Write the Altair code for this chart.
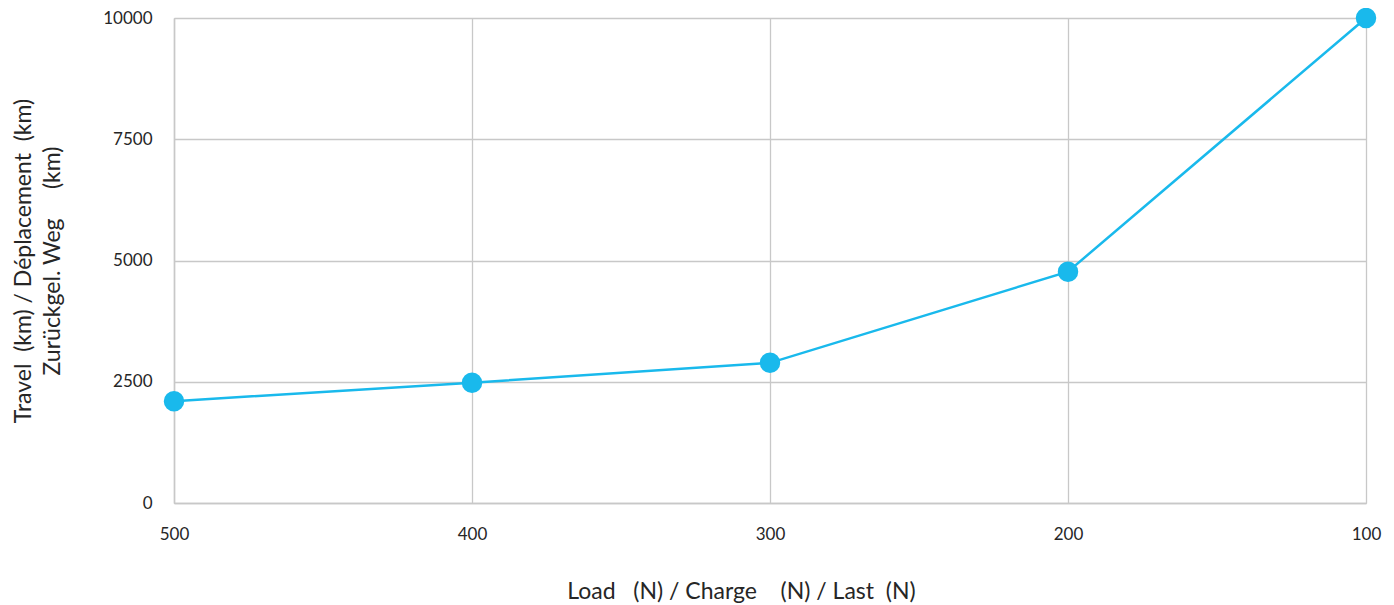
import altair as alt
import pandas as pd

load_n = [500, 400, 300, 200, 100]
travel_km = [2100, 2480, 2890, 4770, 10000]
x_ticks = [500, 400, 300, 200, 100]
y_ticks = [0, 2500, 5000, 7500, 10000]

NB = "\u00a0"
x_title = f"Load{NB*3}(N){NB}/{NB}Charge{NB*4}(N){NB}/{NB}Last{NB*2}(N)"
y_title = [
    f"Travel{NB*2}(km){NB}/{NB}Déplacement{NB*2}(km)",
    f"Zurückgel.{NB}Weg{NB*5}(km)",
]

df = pd.DataFrame({"load": load_n, "travel": travel_km})

FONT = "Lato"
COLOR = "#19b9ec"
GRID = "#c8c8c8"

x_enc = alt.X(
    "load:Q",
    scale=alt.Scale(domain=[500, 100], nice=False, zero=False),
    axis=alt.Axis(
        values=x_ticks,
        title=x_title,
        titleFont=FONT, titleFontSize=23, titleFontWeight="normal", titleColor="#262626",
        titlePadding=38, titleX=567,
        labelFont=FONT, labelFontSize=17, labelColor="#262626", labelPadding=23,
        ticks=False, grid=True, gridColor=GRID, gridWidth=1.3,
        domain=True, domainColor=GRID, domainWidth=1.5, format="d",
        labelFlush=False,
    ),
)
y_enc = alt.Y(
    "travel:Q",
    scale=alt.Scale(domain=[0, 10000], nice=False),
    axis=alt.Axis(
        values=y_ticks,
        title=y_title,
        titleFont=FONT, titleFontSize=23, titleFontWeight="normal", titleColor="#262626",
        titlePadding=38, titleLineHeight=29,
        labelFont=FONT, labelFontSize=17, labelColor="#262626", labelPadding=22,
        ticks=False, grid=True, gridColor=GRID, gridWidth=1.3,
        domain=True, domainColor=GRID, domainWidth=1.5, format="d",
        labelFlush=False,
    ),
)

base = alt.Chart(df)
line = base.mark_line(color=COLOR, strokeWidth=2.5).encode(x=x_enc, y=y_enc)
pts = base.mark_circle(color=COLOR, size=420, opacity=1).encode(x=x_enc, y=y_enc)

chart = (
    alt.layer(line, pts)
    .properties(
        width=1192,
        height=485,
        autosize=alt.AutoSizeParams(type="none"),
        padding={"left": 166, "top": 10, "right": 20, "bottom": 100},
    )
    .configure_view(stroke=GRID, strokeWidth=1.3)
    .configure(background="white")
)

chart.save("out.html", embed_options={"renderer": "svg", "actions": False})
